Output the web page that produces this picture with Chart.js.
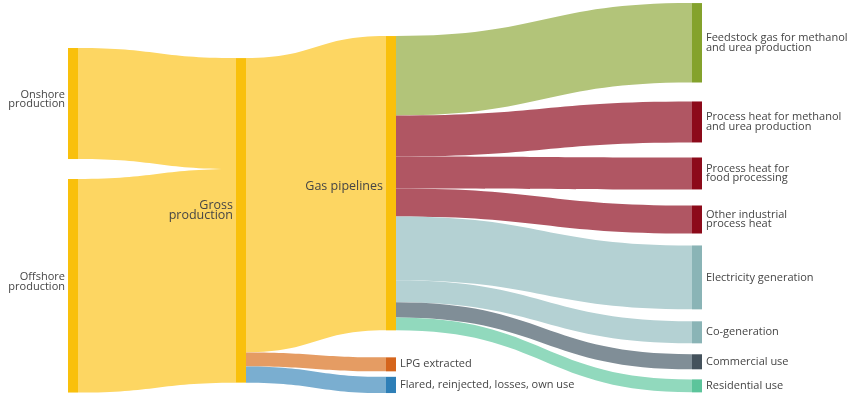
<!DOCTYPE html>
<html lang="en">
<head>
<meta charset="UTF-8">
<title>Natural gas flows</title>
<style>
  html, body { margin: 0; padding: 0; background: #fff; }
  #wrap { width: 850px; height: 398px; }
</style>
<script src="https://cdn.jsdelivr.net/npm/chart.js"></script>
</head>
<body>
<div id="wrap"><canvas id="sankey" width="850" height="398"></canvas></div>
<script>
// nodes, one entry per box
const nodeLabels = [
  ['Onshore', 'production'],
  ['Offshore', 'production'],
  ['Gross', 'production'],
  ['Gas pipelines'],
  ['LPG extracted'],
  ['Flared, reinjected, losses, own use'],
  ['Feedstock gas for methanol', 'and urea production'],
  ['Process heat for methanol', 'and urea production'],
  ['Process heat for', 'food processing'],
  ['Other industrial', 'process heat'],
  ['Electricity generation'],
  ['Co-generation'],
  ['Commercial use'],
  ['Residential use']
];

// flows (PJ)
const flowFrom   = [0, 1, 2, 2, 2, 3, 3, 3, 3, 3, 3, 3, 3];
const flowTo     = [2, 2, 3, 4, 5, 6, 7, 8, 9, 10, 11, 12, 13];
const flowValues = [65, 125, 172.3, 8.2, 9.5, 46.5, 24.0, 18.7, 16.4, 37.4, 12.9, 8.8, 7.6];

const nodeColors = ['#f9c00c', '#f9c00c', '#f9c00c', '#f9c00c', '#d5651c', '#2e7fb7',
  '#84a22c', '#8c0a1a', '#8c0a1a', '#8c0a1a', '#8ab4b6', '#8ab4b6', '#44525c', '#5cc49b'];
// colour of the ribbon going into each node
const flowColors = [null, null, '#fdd662', '#fdd662', '#e59c63', '#7aaed0',
  '#b2c479', '#b05663', '#b05663', '#b05663', '#b4d1d3', '#b4d1d3', '#808e97', '#91d9bd'];

// layout: x in px-units of the x axis, tops and gaps in value units of the y axis
const layout = {
  columnX: [68, 236, 386, 692],
  nodeWidth: 10,
  top: [28.1, 34, 21.1, 1.8],
  gaps: [[11.7], [], [15.8, 3.2], [11.1, 8.8, 9.4, 7.0, 7.0, 6.4, 5.9]],
  labelDy: [-4, -10, 3, 0]
};

// work out columns from the flows
const nNodes = nodeLabels.length;
const depth = new Array(nNodes).fill(0);
for (let pass = 0; pass < nNodes; pass++) {
  flowFrom.forEach((s, i) => { depth[flowTo[i]] = Math.max(depth[flowTo[i]], depth[s] + 1); });
}
const inSum = new Array(nNodes).fill(0), outSum = new Array(nNodes).fill(0);
flowValues.forEach((v, i) => { outSum[flowFrom[i]] += v; inSum[flowTo[i]] += v; });
const nodeValue = inSum.map((v, i) => Math.max(v, outSum[i]));

// node start/end in y-axis units
const nodeY0 = [], nodeY1 = [];
layout.columnX.forEach((cx, c) => {
  let y = layout.top[c];
  let k = 0;
  for (let n = 0; n < nNodes; n++) {
    if (depth[n] !== c) continue;
    if (k > 0) y += layout.gaps[c][k - 1];
    nodeY0[n] = y;
    y += nodeValue[n];
    nodeY1[n] = y;
    k++;
  }
});

const sankeyPlugin = {
  id: 'sankey',
  afterDatasetsDraw(chart) {
    const ctx = chart.ctx;
    const xs = chart.scales.x, ys = chart.scales.y;
    const outOff = new Array(nNodes).fill(0), inOff = new Array(nNodes).fill(0);

    // ribbons
    flowValues.forEach((v, i) => {
      const s = flowFrom[i], t = flowTo[i];
      const x0 = xs.getPixelForValue(layout.columnX[depth[s]] + layout.nodeWidth);
      const x1 = xs.getPixelForValue(layout.columnX[depth[t]]);
      const sa = ys.getPixelForValue(nodeY0[s] + outOff[s]);
      const sb = ys.getPixelForValue(nodeY0[s] + outOff[s] + v);
      const ta = ys.getPixelForValue(nodeY0[t] + inOff[t]);
      const tb = ys.getPixelForValue(nodeY0[t] + inOff[t] + v);
      outOff[s] += v; inOff[t] += v;
      const xm = (x0 + x1) / 2;
      ctx.beginPath();
      ctx.moveTo(x0, sa);
      ctx.bezierCurveTo(xm, sa, xm, ta, x1, ta);
      ctx.lineTo(x1, tb);
      ctx.bezierCurveTo(xm, tb, xm, sb, x0, sb);
      ctx.closePath();
      ctx.fillStyle = flowColors[t];
      ctx.fill();
    });

    // nodes and labels
    ctx.textBaseline = 'middle';
    for (let n = 0; n < nNodes; n++) {
      const c = depth[n];
      const xa = xs.getPixelForValue(layout.columnX[c]);
      const xb = xs.getPixelForValue(layout.columnX[c] + layout.nodeWidth);
      const ya = ys.getPixelForValue(nodeY0[n]);
      const yb = ys.getPixelForValue(nodeY1[n]);
      ctx.fillStyle = nodeColors[n];
      ctx.fillRect(xa, ya, xb - xa, yb - ya);

      const lines = nodeLabels[n];
      const rightSide = outSum[n] === 0;
      const inner = inSum[n] > 0 && outSum[n] > 0;
      ctx.font = inner ? '12.5px "Open Sans"' : '11px "Open Sans"';
      const lineH = inner ? 10 : 9.5;
      const cy = (ya + yb) / 2 + (rightSide ? 0 : layout.labelDy[c]);
      ctx.fillStyle = '#454545';
      ctx.textAlign = rightSide ? 'left' : 'right';
      const tx = rightSide ? xb + 4 : xa - 3;
      lines.forEach((line, j) => {
        ctx.fillText(line, tx, cy + (j - (lines.length - 1) / 2) * lineH);
      });
    }
  }
};

new Chart(document.getElementById('sankey'), {
  type: 'scatter',
  data: { datasets: [{ data: [] }] },
  options: {
    responsive: false,
    animation: false,
    devicePixelRatio: 1,
    layout: { padding: 0 },
    plugins: { legend: { display: false }, tooltip: { enabled: false } },
    scales: {
      x: { type: 'linear', min: 0, max: 850, display: false },
      y: { type: 'linear', min: 0, max: 233, reverse: true, display: false }
    }
  },
  plugins: [sankeyPlugin]
});
</script>
</body>
</html>
